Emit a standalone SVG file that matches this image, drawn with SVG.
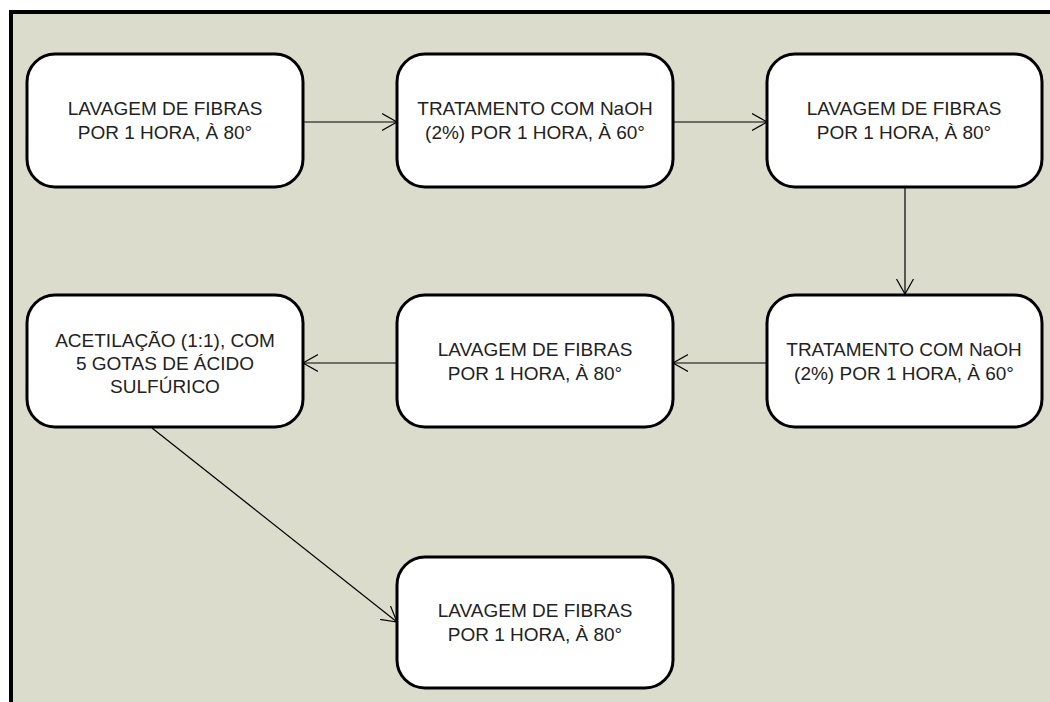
<svg xmlns="http://www.w3.org/2000/svg" width="1050" height="702" viewBox="0 0 1050 702">
<style>
.node rect{fill:#ffffff;stroke:#000000;stroke-width:3}
.node text{font-family:"Liberation Sans",Arial,sans-serif;font-size:19px;fill:#222222;text-anchor:middle}
.conn line{stroke:#000000;stroke-width:1.2;fill:none}
</style>
<defs>
<marker id="arr" markerUnits="userSpaceOnUse" markerWidth="18" markerHeight="20" refX="15" refY="9" orient="auto">
<path d="M0,0.5 L15,9 L0,17.5" fill="none" stroke="#000000" stroke-width="1.2"/>
</marker>
</defs>
<rect x="0" y="0" width="1050" height="702" fill="#ffffff"/>
<rect x="11" y="12" width="1039" height="690" fill="#dcdccd"/>
<line x1="9" y1="12" x2="1050" y2="12" stroke="#000000" stroke-width="4"/>
<line x1="11" y1="10" x2="11" y2="702" stroke="#000000" stroke-width="4"/>
<g id="connectors" class="conn">
<line x1="303" y1="122" x2="397" y2="122" marker-end="url(#arr)"/>
<line x1="673" y1="122" x2="767" y2="122" marker-end="url(#arr)"/>
<line x1="905" y1="187" x2="905" y2="294" marker-end="url(#arr)"/>
<line x1="767" y1="363" x2="673" y2="363" marker-end="url(#arr)"/>
<line x1="397" y1="363" x2="303" y2="363" marker-end="url(#arr)"/>
<line x1="152" y1="428" x2="397" y2="622" marker-end="url(#arr)"/>
</g>
<g id="n1" class="node">
<rect x="27" y="54" width="276" height="133" rx="28" ry="28"/>
<text x="165" y="115">LAVAGEM DE FIBRAS</text>
<text x="165" y="139">POR 1 HORA, À 80°</text>
</g>
<g id="n2" class="node">
<rect x="397" y="54" width="276" height="133" rx="28" ry="28"/>
<text x="535" y="115">TRATAMENTO COM NaOH</text>
<text x="535" y="139">(2%) POR 1 HORA, À 60°</text>
</g>
<g id="n3" class="node">
<rect x="767" y="54" width="275" height="133" rx="28" ry="28"/>
<text x="904" y="115">LAVAGEM DE FIBRAS</text>
<text x="904" y="139">POR 1 HORA, À 80°</text>
</g>
<g id="n4" class="node">
<rect x="767" y="295" width="275" height="132" rx="28" ry="28"/>
<text x="904" y="356">TRATAMENTO COM NaOH</text>
<text x="904" y="380">(2%) POR 1 HORA, À 60°</text>
</g>
<g id="n5" class="node">
<rect x="397" y="295" width="276" height="132" rx="28" ry="28"/>
<text x="535" y="356">LAVAGEM DE FIBRAS</text>
<text x="535" y="380">POR 1 HORA, À 80°</text>
</g>
<g id="n6" class="node">
<rect x="27" y="295" width="276" height="132" rx="28" ry="28"/>
<text x="165" y="347">ACETILAÇÃO (1:1), COM</text>
<text x="165" y="370">5 GOTAS DE ÁCIDO</text>
<text x="165" y="393">SULFÚRICO</text>
</g>
<g id="n7" class="node">
<rect x="397" y="557" width="276" height="131" rx="28" ry="28"/>
<text x="535" y="617">LAVAGEM DE FIBRAS</text>
<text x="535" y="641">POR 1 HORA, À 80°</text>
</g>
</svg>
